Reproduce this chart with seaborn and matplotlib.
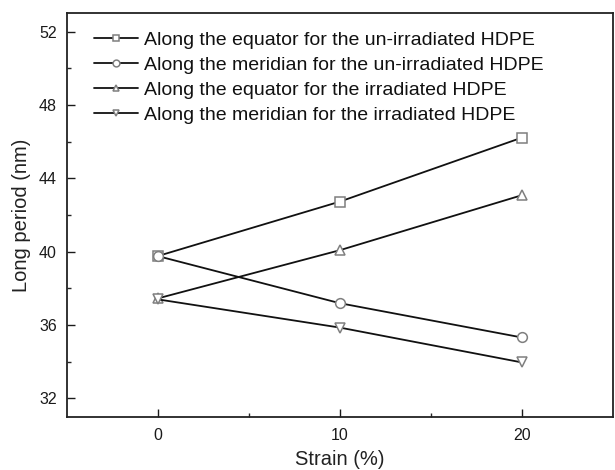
import matplotlib
matplotlib.use("Agg")
import matplotlib.pyplot as plt
import seaborn as sns
import pandas as pd

strain = [0, 10, 20]
eq_unirr = [39.76, 42.73, 46.22]
mer_unirr = [39.76, 37.19, 35.32]
eq_irr = [37.45, 40.08, 43.08]
mer_irr = [37.40, 35.86, 33.96]

labels = [
    "Along the equator for the un-irradiated HDPE",
    "Along the meridian for the un-irradiated HDPE",
    "Along the equator for the irradiated HDPE",
    "Along the meridian for the irradiated HDPE",
]
markers = ["s", "o", "^", "v"]
series = [eq_unirr, mer_unirr, eq_irr, mer_irr]

sns.set_theme(style="white")
plt.rcParams["font.family"] = ["Liberation Sans", "DejaVu Sans"]

W, H = 615, 470
fig = plt.figure(figsize=(W / 100, H / 100), dpi=100)
left, right, top, bottom = 66.7, 613.0, 13.3, 416.7
ax = fig.add_axes([left / W, 1 - bottom / H, (right - left) / W, (bottom - top) / H])

for lab, mk, vals in zip(labels, markers, series):
    df = pd.DataFrame({"Strain": strain, "L": vals})
    sns.lineplot(data=df, x="Strain", y="L", ax=ax, color="#111111", lw=1.3,
                 marker=mk, markersize=7, markeredgecolor="#7f7f7f",
                 markerfacecolor="white", markeredgewidth=1.1, label=lab)

ax.set_xlim(-5, 25)
ax.set_ylim(31, 53)
ax.set_xticks([0, 10, 20])
ax.set_xticks([5, 15], minor=True)
ax.set_yticks([32, 36, 40, 44, 48, 52])
ax.set_yticks([34, 38, 42, 46, 50], minor=True)
ax.tick_params(axis="both", which="major", direction="in", length=6, width=1.0,
               labelsize=11.5, colors="#1a1a1a", bottom=True, left=True, top=False, right=False)
ax.tick_params(axis="both", which="minor", direction="in", length=3, width=1.0,
               bottom=True, left=True, top=False, right=False)
ax.tick_params(axis="x", pad=8)
ax.tick_params(axis="y", pad=7)
for s in ax.spines.values():
    s.set_color("#222222")
    s.set_linewidth(1.3)

ax.set_xlabel("Strain (%)", fontsize=14.5, color="#222222", labelpad=5)
ax.set_ylabel("Long period (nm)", fontsize=14.5, color="#222222", labelpad=6)

leg = ax.legend(loc="upper left", frameon=False, fontsize=14, markerscale=0.7,
                handlelength=2.3, handletextpad=0.3, labelspacing=0.38,
                borderaxespad=0.0, bbox_to_anchor=(0.035, 0.975))
for t in leg.get_texts():
    t.set_color("#111111")

fig.savefig("out.png", dpi=100)
